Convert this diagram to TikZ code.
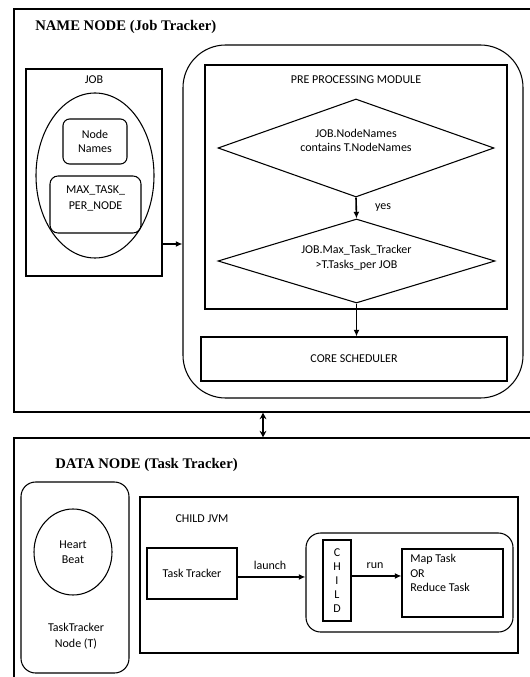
\documentclass[tikz,border=0pt]{standalone}
\usepackage{fontspec}
\setmainfont{Carlito}
\newfontfamily\titlefont{Liberation Serif}
\usepackage{tikz}
\usetikzlibrary{shapes}
\usetikzlibrary{arrows.meta}

\tikzset{
  box/.style={draw, line width=0.8pt, inner sep=0pt},
  rbox/.style={box, rounded corners=#1},
  txt/.style={inner sep=0.75pt, font=\fontsize{9}{11}\selectfont, align=center},
  ttl/.style={inner sep=0.75pt, font=\titlefont\bfseries\fontsize{11}{13}\selectfont},
  arr/.style={-{Latex[length=5pt,width=4.5pt]}, line width=1.2pt},
}

\begin{document}
\begin{tikzpicture}[x=0.75pt,y=0.75pt,yscale=-1,xscale=1]
\useasboundingbox (0,0) rectangle (529,677);
\node [box, minimum width=390.75pt, minimum height=302.25pt] (nn) at (274.5,210.5) {};
\node [box, minimum width=390.75pt, minimum height=189pt] (dn) at (274.5,564) {};
\draw (34,27) node [ttl, anchor=west] (nntitle) {NAME NODE (Job Tracker)};
\draw (54,465) node [ttl, anchor=west] (dntitle) {DATA NODE (Task Tracker)};

\node [box, minimum width=102pt, minimum height=155.25pt] (job) at (94,172.5) {};
\draw (94,80) node [txt] (joblbl) {JOB};
\node [box, ellipse, minimum width=88.5pt, minimum height=123.75pt] (jobell) at (95,175.5) {};
\node [rbox=5pt, minimum width=48pt, minimum height=33.75pt, txt] (names) at (95,141.5) {Node\\Names};
\node [rbox=6pt, minimum width=68.25pt, minimum height=42.75pt] (maxtask) at (95.5,204.5) {};
\draw (95.5,198) node [txt] (maxlbl) {MAX\_TASK\_\\[1pt]PER\_NODE};

\node [rbox=32pt, minimum width=255pt, minimum height=264.75pt] (jt) at (353,221.5) {};
\node [box, minimum width=226.5pt, minimum height=183pt] (pre) at (356,187) {};
\draw (356,80) node [txt] (prelbl) {PRE PROCESSING MODULE};
\node [box, diamond, aspect=2.82, minimum width=207pt, minimum height=73.5pt] (d1) at (356,148) {};
\draw (356,140.5) node [txt] (d1lbl) {JOB.NodeNames\\contains T.NodeNames};
\node [box, diamond, aspect=3.3, minimum width=207.75pt, minimum height=63pt] (d2) at (356.5,261) {};
\draw (356.5,258) node [txt] (d2lbl) {JOB.Max\_Task\_Tracker\\>T.Tasks\_per JOB};
\node [box, minimum width=229.5pt, minimum height=33pt, txt] (core) at (354,359) {CORE SCHEDULER};
\draw (383,208) node [txt] (yes) {yes};

\coordinate (jobout) at (162,244);
\draw [arr] (jobout) -- (jobout -| jt.west);
\draw [arr] (d1.south) -- (d2.north);
\draw [arr] (d2.south) -- (d2.south |- core.north);
\coordinate (link) at (263,425);
\draw [{Stealth[length=5pt,width=5pt]}-{Stealth[length=5pt,width=5pt]}, line width=1pt] (nn.south -| link) -- (dn.north -| link);

\node [rbox=11pt, minimum width=81pt, minimum height=143.25pt] (tt) at (75,577.5) {};
\node [box, ellipse, minimum width=58.5pt, minimum height=64.5pt, txt] (hb) at (73,552) {Heart\\Beat};
\draw (76,636) node [txt] (ttlbl) {TaskTracker\\[1pt]Node (T)};

\node [box, minimum width=283.5pt, minimum height=117pt] (jvm) at (329,575) {};
\draw (202,519) node [txt] (jvmlbl) {CHILD JVM};
\node [box, minimum width=67.5pt, minimum height=38.25pt, txt] (tracker) at (192,573.5) {Task Tracker};
\node [rbox=11pt, minimum width=155.25pt, minimum height=74.25pt] (grp) at (409.5,582.5) {};
\node [box, minimum width=21pt, minimum height=60.75pt, txt, font=\fontsize{9}{10.5}\selectfont] (child) at (337,580.5) {C\\H\\I\\L\\D};
\node [box, minimum width=75.75pt, minimum height=51pt] (map) at (452.5,583) {};
\draw (409,553) node [txt, anchor=north west, align=left] (maplbl) {Map Task\\OR\\Reduce Task};

\draw [arr] ([yshift=2.6pt]tracker.east) -- ([yshift=2.6pt]tracker.east -| grp.west);
\draw (270,565) node [txt] (launch) {launch};
\draw [arr] ([yshift=-3.4pt]child.east) -- ([yshift=-3.4pt]child.east -| map.west);
\draw (375,566) node [txt] (run) {run};
\end{tikzpicture}
\end{document}
